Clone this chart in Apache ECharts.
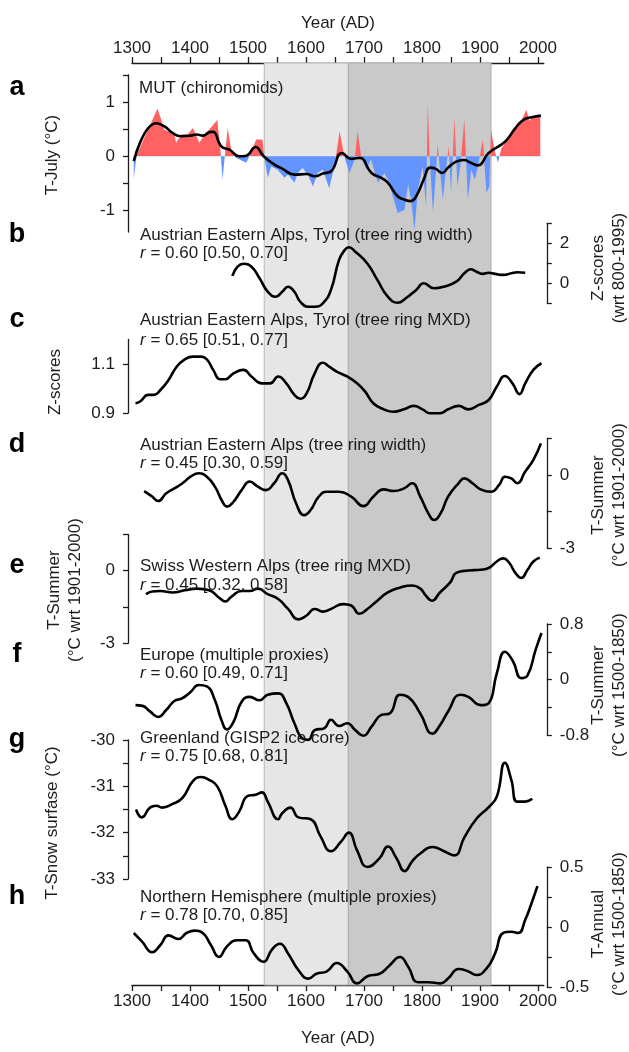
<!DOCTYPE html>
<html>
<head>
<meta charset="utf-8">
<script src="https://cdn.jsdelivr.net/npm/echarts@6/dist/echarts.min.js"></script>
<style>
  html, body { margin: 0; padding: 0; background: #fff; }
  #chart { width: 629px; height: 1052px; }
</style>
</head>
<body>
<div id="chart"></div>
<script>
  // ---- shared year axis ----
  const yearTicks = [1300, 1350, 1400, 1450, 1500, 1550, 1600, 1650, 1700, 1750, 1800, 1850, 1900, 1950, 2000]
  const yearLabels = [1300, 1400, 1500, 1600, 1700, 1800, 1900, 2000]
  const lightPeriod = [1528, 1673]
  const darkPeriod = [1673, 1919]

  // ---- a: MUT (chironomids), T-July ----
  const mutRawYears = [1303, 1308, 1344, 1356, 1362, 1373, 1376, 1385, 1396, 1405, 1416, 1425, 1433, 1447, 1452, 1456, 1460, 1465, 1471, 1479, 1497, 1505, 1514, 1525, 1528, 1534, 1540, 1551, 1563, 1569, 1580, 1586, 1594, 1603, 1612, 1620, 1629, 1640, 1649, 1658, 1666, 1675, 1684, 1689, 1695, 1704, 1712, 1724, 1735, 1741, 1753, 1758, 1770, 1776, 1781, 1787, 1793, 1801, 1807, 1810, 1813, 1819, 1824, 1827, 1832, 1836, 1842, 1846, 1850, 1856, 1861, 1866, 1873, 1879, 1885, 1891, 1896, 1905, 1911, 1916, 1919, 1925, 1931, 1937, 1942, 1948, 1957, 1965, 1971, 1980, 1985, 1991, 1997, 2004]
  const mutRaw = [-0.42, 0.02, 0.88, 0.49, 0.46, 0.40, 0.25, 0.40, 0.40, 0.52, 0.25, 0.40, 0.49, 0.67, 0.19, -0.43, 0.0, 0.52, 0.12, -0.03, -0.12, 0.06, 0.31, 0.31, 0.0, -0.40, -0.19, -0.25, -0.40, -0.34, -0.49, -0.31, -0.22, -0.34, -0.56, -0.31, -0.25, -0.59, -0.19, 0.46, 0.0, -0.31, -0.06, 0.46, 0.0, -0.25, -0.06, -0.49, -0.31, -0.43, -0.86, -1.05, -0.99, -0.52, -0.80, -1.36, -0.62, -0.19, -0.93, 0.99, 0.0, -1.05, -0.31, 0.22, -0.37, -0.80, -0.19, 0.19, -0.68, 0.71, -0.56, -0.19, 0.68, -0.80, -0.25, -0.43, -0.22, 0.31, -0.68, -0.56, 0.49, 0.12, -0.12, 0.15, 0.22, 0.31, 0.43, 0.62, 0.65, 0.86, 0.65, 0.74, 0.71, 0.74]
  const mutSmoothYears = [1303, 1342, 1356, 1370, 1384, 1401, 1412, 1422, 1436, 1440, 1454, 1468, 1485, 1497, 1513, 1527, 1545, 1559, 1580, 1601, 1615, 1629, 1643, 1662, 1678, 1692, 1713, 1730, 1741, 1758, 1769, 1781, 1790, 1803, 1814, 1823, 1835, 1845, 1859, 1872, 1884, 1896, 1915, 1936, 1947, 1961, 1975, 1989, 2005]
  const mutSmooth = [-0.09, 0.61, 0.55, 0.43, 0.37, 0.38, 0.40, 0.38, 0.45, 0.45, 0.18, 0.12, 0.0, 0.01, 0.17, 0.0, -0.15, -0.23, -0.34, -0.33, -0.37, -0.32, -0.28, 0.06, -0.05, -0.03, -0.31, -0.40, -0.49, -0.74, -0.80, -0.83, -0.74, -0.43, -0.21, -0.23, -0.31, -0.21, -0.10, -0.07, -0.12, -0.17, 0.06, 0.21, 0.31, 0.52, 0.67, 0.72, 0.75]
  const aTicks = [-1, -0.5, 0, 0.5, 1, 1.5]
  const aLabels = [-1, 0, 1]

  // ---- b: Tyrol tree ring width ----
  const bYears = [1473, 1482, 1492, 1506, 1520, 1534, 1548, 1559, 1569, 1580, 1590, 1604, 1615, 1629, 1643, 1657, 1667, 1674, 1685, 1706, 1723, 1741, 1758, 1772, 1790, 1803, 1821, 1838, 1859, 1873, 1884, 1894, 1905, 1915, 1926, 1940, 1954, 1964, 1978]
  const bVals = [0.37, 0.83, 0.98, 0.83, 0.25, -0.42, -0.67, -0.42, -0.17, -0.42, -0.92, -1.17, -1.17, -1.0, -0.33, 1.17, 1.67, 1.80, 1.58, 0.98, 0.17, -0.67, -0.97, -0.75, -0.33, 0.0, -0.25, -0.17, 0.08, 0.5, 0.70, 0.58, 0.47, 0.53, 0.47, 0.42, 0.5, 0.55, 0.53]
  const bTicks = [-1, 0, 1, 2, 3]
  const bLabels = [0, 2]

  // ---- c: Tyrol tree ring MXD ----
  const cYears = [1306, 1314, 1328, 1338, 1349, 1363, 1377, 1391, 1405, 1419, 1429, 1440, 1452, 1461, 1475, 1492, 1506, 1524, 1538, 1552, 1566, 1580, 1590, 1601, 1615, 1629, 1640, 1653, 1671, 1688, 1702, 1716, 1734, 1751, 1769, 1786, 1800, 1814, 1831, 1845, 1863, 1880, 1898, 1915, 1929, 1943, 1956, 1968, 1978, 1992, 2006]
  const cVals = [0.940, 0.947, 0.974, 0.974, 0.994, 1.035, 1.089, 1.119, 1.130, 1.130, 1.119, 1.076, 1.038, 1.038, 1.062, 1.076, 1.049, 1.021, 1.021, 1.049, 1.021, 0.974, 0.958, 0.980, 1.062, 1.105, 1.089, 1.069, 1.049, 1.021, 0.987, 0.940, 0.915, 0.905, 0.915, 0.929, 0.916, 0.899, 0.899, 0.915, 0.929, 0.915, 0.933, 0.953, 1.008, 1.051, 1.021, 0.977, 1.021, 1.076, 1.103]
  const cTicks = [0.9, 1.1]
  const cLabels = [0.9, 1.1]

  // ---- d: Austrian Eastern Alps tree ring width ----
  const dYears = [1321, 1335, 1345, 1359, 1373, 1387, 1401, 1415, 1429, 1443, 1456, 1464, 1475, 1489, 1503, 1517, 1531, 1545, 1559, 1569, 1583, 1597, 1608, 1622, 1636, 1657, 1678, 1699, 1716, 1734, 1751, 1769, 1783, 1797, 1811, 1821, 1832, 1845, 1863, 1873, 1887, 1901, 1919, 1933, 1943, 1954, 1964, 1978, 1992, 2005]
  const dVals = [-0.66, -0.89, -1.07, -0.75, -0.55, -0.34, -0.07, 0.07, -0.07, -0.48, -1.10, -1.30, -1.10, -0.62, -0.27, -0.48, -0.62, -0.34, 0.07, -0.21, -1.17, -1.65, -1.44, -0.89, -0.69, -0.69, -0.89, -1.28, -0.89, -0.59, -0.66, -0.55, -0.34, -0.89, -1.58, -1.85, -1.58, -0.89, -0.34, -0.14, -0.34, -0.59, -0.69, -0.41, -0.07, -0.14, -0.34, 0.14, 0.62, 1.3]
  const dTicks = [-3, -1.5, 0, 1.5]
  const dLabels = [-3, 0]

  // ---- e: Swiss Western Alps tree ring MXD ----
  const eYears = [1324, 1335, 1349, 1370, 1391, 1412, 1433, 1450, 1461, 1471, 1489, 1503, 1517, 1534, 1552, 1569, 1587, 1601, 1615, 1629, 1643, 1664, 1678, 1692, 1706, 1723, 1741, 1762, 1783, 1797, 1807, 1817, 1831, 1849, 1859, 1880, 1901, 1915, 1929, 1940, 1950, 1961, 1971, 1982, 1992, 2003]
  const eVals = [-0.97, -0.86, -0.84, -0.90, -0.81, -0.74, -0.81, -1.11, -1.27, -1.08, -0.84, -0.84, -0.74, -0.97, -1.17, -1.58, -2.01, -1.85, -1.58, -1.69, -1.58, -1.38, -1.44, -1.78, -1.58, -1.24, -0.90, -0.70, -0.61, -0.74, -1.04, -1.24, -0.90, -0.47, -0.09, 0.01, 0.04, 0.11, 0.38, 0.51, 0.34, -0.09, -0.30, 0.04, 0.38, 0.54]
  const eTicks = [-3, -1.5, 0, 1.5]
  const eLabels = [-3, 0]

  // ---- f: Europe multiple proxies ----
  const fYears = [1306, 1318, 1331, 1345, 1359, 1373, 1387, 1401, 1415, 1429, 1443, 1454, 1464, 1475, 1489, 1503, 1520, 1534, 1552, 1566, 1580, 1594, 1604, 1615, 1632, 1643, 1657, 1671, 1685, 1699, 1713, 1730, 1744, 1762, 1776, 1797, 1818, 1831, 1845, 1866, 1880, 1901, 1915, 1929, 1943, 1957, 1971, 1982, 1996, 2006]
  const fVals = [-0.37, -0.38, -0.46, -0.54, -0.44, -0.31, -0.27, -0.18, -0.08, -0.10, -0.30, -0.58, -0.72, -0.61, -0.32, -0.25, -0.30, -0.22, -0.20, -0.34, -0.63, -0.85, -0.87, -0.73, -0.70, -0.58, -0.67, -0.63, -0.73, -0.81, -0.68, -0.51, -0.49, -0.22, -0.25, -0.49, -0.78, -0.66, -0.46, -0.22, -0.25, -0.37, -0.34, 0.09, 0.40, 0.26, 0.02, 0.06, 0.43, 0.67]
  const fTicks = [-0.8, -0.4, 0, 0.4, 0.8]
  const fLabels = [-0.8, 0, 0.8]

  // ---- g: Greenland GISP2 ice core ----
  const gYears = [1307, 1317, 1331, 1342, 1352, 1370, 1387, 1405, 1419, 1433, 1447, 1461, 1473, 1485, 1499, 1513, 1524, 1534, 1552, 1559, 1573, 1587, 1608, 1625, 1643, 1660, 1674, 1688, 1706, 1727, 1741, 1756, 1770, 1783, 1797, 1818, 1838, 1856, 1873, 1894, 1915, 1929, 1943, 1954, 1964, 1978, 1990]
  const gVals = [-31.5, -31.67, -31.46, -31.42, -31.46, -31.38, -31.25, -30.89, -30.8, -30.86, -31.0, -31.42, -31.71, -31.54, -31.21, -31.18, -31.13, -31.33, -31.71, -31.58, -31.46, -31.67, -31.71, -32.08, -32.4, -32.2, -32.0, -32.38, -32.74, -32.55, -32.3, -32.55, -32.83, -32.62, -32.45, -32.31, -32.4, -32.49, -32.1, -31.7, -31.45, -31.22, -30.49, -30.86, -31.33, -31.33, -31.27]
  const gTicks = [-33, -32.5, -32, -31.5, -31, -30.5, -30]
  const gLabels = [-33, -32, -31, -30]

  // ---- h: Northern Hemisphere multiple proxies ----
  const hYears = [1303, 1317, 1335, 1349, 1363, 1380, 1394, 1408, 1422, 1436, 1450, 1464, 1482, 1496, 1510, 1527, 1541, 1555, 1569, 1587, 1604, 1618, 1636, 1653, 1671, 1688, 1706, 1727, 1744, 1762, 1776, 1793, 1811, 1832, 1845, 1863, 1880, 1894, 1912, 1926, 1940, 1954, 1966, 1978, 1989, 1999]
  const hVals = [-0.05, -0.12, -0.21, -0.15, -0.07, -0.10, -0.05, -0.03, -0.05, -0.15, -0.25, -0.16, -0.11, -0.11, -0.22, -0.29, -0.19, -0.14, -0.22, -0.36, -0.43, -0.39, -0.37, -0.30, -0.37, -0.47, -0.41, -0.39, -0.32, -0.25, -0.33, -0.46, -0.46, -0.47, -0.43, -0.35, -0.37, -0.40, -0.34, -0.22, -0.05, -0.04, -0.05, 0.06, 0.20, 0.34]
  const hTicks = [-0.5, -0.25, 0, 0.25, 0.5]
  const hLabels = [-0.5, 0, 0.5]

  const FONT = '"Liberation Sans", Arial, Helvetica, sans-serif'
  const INK = '#1c1c1c'
  const RED = '#ff6262'
  const BLUE = '#6494ff'
  const GRID_LEFT = 132
  const GRID_RIGHT = 85.2
  const X_MIN = 1300
  const X_MAX = 2010

  const zip = (xs, ys) => xs.map((x, i) => [x, ys[i]])

  // panel layout: pixel top / height of each value axis
  const panels = [
    { top: 75, height: 157, min: -1.4, max: 1.5, side: 'left', ticks: aTicks, labels: aLabels },
    { top: 223.3, height: 80, min: -1, max: 3, side: 'right', ticks: bTicks, labels: bLabels },
    { top: 339.5, height: 73.5, min: 0.9, max: 1.2, side: 'left', ticks: cTicks, labels: cLabels },
    { top: 438.5, height: 109.5, min: -3, max: 1.5, side: 'right', ticks: dTicks, labels: dLabels },
    { top: 534.4, height: 108.9, min: -3, max: 1.5, side: 'left', ticks: eTicks, labels: eLabels },
    { top: 624, height: 111, min: -0.8, max: 0.8, side: 'right', ticks: fTicks, labels: fLabels },
    { top: 740, height: 139, min: -33, max: -30, side: 'left', ticks: gTicks, labels: gLabels },
    { top: 867, height: 120, min: -0.5, max: 0.5, side: 'right', ticks: hTicks, labels: hLabels }
  ]

  const grids = [{ left: GRID_LEFT, right: GRID_RIGHT, top: 63, bottom: 54 }]
  const xAxes = []
  const yAxes = [{ gridIndex: 0, show: false, min: 0, max: 1 }]

  const yearAxis = (pos) => ({
    gridIndex: 0,
    type: 'value',
    position: pos,
    min: X_MIN,
    max: X_MAX,
    name: 'Year (AD)',
    nameLocation: 'middle',
    nameGap: pos === 'top' ? 31 : 45,
    nameTextStyle: { fontFamily: FONT, fontSize: 17, color: INK },
    axisLine: { show: true, onZero: false, lineStyle: { color: INK, width: 1.3 } },
    axisTick: { show: true, length: 6, customValues: yearTicks, lineStyle: { color: INK, width: 1.3 } },
    axisLabel: {
      customValues: yearLabels, margin: pos === 'top' ? 6 : 8,
      formatter: v => String(v), fontFamily: FONT, fontSize: 17, color: INK
    },
    splitLine: { show: false }
  })
  xAxes.push(yearAxis('top'), yearAxis('bottom'))

  panels.forEach((p, i) => {
    grids.push({ left: GRID_LEFT, right: GRID_RIGHT, top: p.top, height: p.height })
    xAxes.push({ gridIndex: i + 1, type: 'value', min: X_MIN, max: X_MAX, show: false })
    yAxes.push({
      gridIndex: i + 1,
      type: 'value',
      position: p.side,
      offset: p.side === 'left' ? 4 : 3,
      min: p.min,
      max: p.max,
      axisLine: { show: true, onZero: false, lineStyle: { color: INK, width: 1.3 } },
      axisTick: { show: true, length: 5, customValues: p.ticks, lineStyle: { color: INK, width: 1.3 } },
      axisLabel: { customValues: p.labels, margin: 13, formatter: v => String(v), fontFamily: FONT, fontSize: 17, color: INK },
      splitLine: { show: false }
    })
  })

  const curve = (panelIdx, years, vals) => ({
    type: 'line',
    xAxisIndex: panelIdx + 2,
    yAxisIndex: panelIdx + 1,
    data: zip(years, vals),
    smooth: 0.5,
    symbol: 'none',
    clip: false,
    silent: true,
    z: 4,
    lineStyle: { color: '#000', width: 2.6 }
  })

  // MUT fill: red above zero, blue below (hard stop at the zero line of panel a)
  const pa = panels[0]
  const zeroFrac = pa.max / (pa.max - pa.min)
  const mutFill = new echarts.graphic.LinearGradient(0, pa.top, 0, pa.top + pa.height, [
    { offset: 0, color: RED }, { offset: zeroFrac, color: RED },
    { offset: zeroFrac, color: BLUE }, { offset: 1, color: BLUE }
  ], true)

  const series = [
    {
      type: 'line',
      xAxisIndex: 0,
      yAxisIndex: 0,
      data: [[X_MIN, 0]],
      symbol: 'none',
      silent: true,
      z: 0,
      lineStyle: { opacity: 0 },
      markArea: {
        silent: true,
        data: [
          [{ xAxis: lightPeriod[0], itemStyle: { color: '#e6e6e6', borderColor: '#b8b8b8', borderWidth: 1 } }, { xAxis: lightPeriod[1] }],
          [{ xAxis: darkPeriod[0], itemStyle: { color: '#c9c9c9', borderColor: '#b0b0b0', borderWidth: 1 } }, { xAxis: darkPeriod[1] }]
        ]
      }
    },
    {
      type: 'line',
      xAxisIndex: 2,
      yAxisIndex: 1,
      data: zip(mutRawYears, mutRaw),
      symbol: 'none',
      silent: true,
      z: 3,
      lineStyle: { width: 0, opacity: 0 },
      areaStyle: { opacity: 1, origin: 0, color: mutFill }
    },
    curve(0, mutSmoothYears, mutSmooth),
    curve(1, bYears, bVals),
    curve(2, cYears, cVals),
    curve(3, dYears, dVals),
    curve(4, eYears, eVals),
    curve(5, fYears, fVals),
    curve(6, gYears, gVals),
    curve(7, hYears, hVals)
  ]

  // text overlays: panel letters, panel titles, r-values, axis titles
  const txt = (x, y, text, extra) => ({
    type: 'text', x: x, y: y, z: 100, silent: true,
    style: Object.assign({ text: text, fill: INK, fontFamily: FONT, fontSize: 17,
      align: 'left', verticalAlign: 'middle', textAlign: 'left', textVerticalAlign: 'middle' }, extra || {})
  })
  const letter = (y, l) => txt(17, y, l, { fontSize: 27, fontWeight: 'bold', fill: '#000', align: 'center', textAlign: 'center' })
  const rLine = (y, s) => ({
    type: 'text', x: 140, y: y, z: 100, silent: true,
    style: {
      text: '{i|r}{n| = ' + s + '}',
      align: 'left', verticalAlign: 'middle', textAlign: 'left', textVerticalAlign: 'middle',
      rich: {
        i: { fontStyle: 'italic', fontFamily: FONT, fontSize: 17, fill: INK },
        n: { fontFamily: FONT, fontSize: 17, fill: INK }
      }
    }
  })
  const vTitle = (x, y, s) => ({
    type: 'text', x: x, y: y, z: 100, rotation: Math.PI / 2, silent: true,
    style: { text: s, fill: INK, fontFamily: FONT, fontSize: 17, lineHeight: 21,
      align: 'center', verticalAlign: 'middle', textAlign: 'center', textVerticalAlign: 'middle' }
  })

  const graphics = [
    letter(88, 'a'), letter(235, 'b'), letter(320, 'c'), letter(445, 'd'),
    letter(566, 'e'), letter(655, 'f'), letter(740, 'g'), letter(897, 'h'),
    txt(139, 88, 'MUT (chironomids)'),
    txt(140, 235, 'Austrian Eastern Alps, Tyrol (tree ring width)'),
    rLine(253, '0.60 [0.50, 0.70]'),
    txt(140, 320, 'Austrian Eastern Alps, Tyrol (tree ring MXD)'),
    rLine(340, '0.65 [0.51, 0.77]'),
    txt(140, 445, 'Austrian Eastern Alps (tree ring width)'),
    rLine(463, '0.45 [0.30, 0.59]'),
    txt(140, 566, 'Swiss Western Alps (tree ring MXD)'),
    rLine(585, '0.45 [0.32, 0.58]'),
    txt(140, 655, 'Europe (multiple proxies)'),
    rLine(673, '0.60 [0.49, 0.71]'),
    txt(140, 738, 'Greenland (GISP2 ice core)'),
    rLine(756, '0.75 [0.68, 0.81]'),
    txt(140, 897, 'Northern Hemisphere (multiple proxies)'),
    rLine(915, '0.78 [0.70, 0.85]'),
    vTitle(52, 155, 'T-July (°C)'),
    vTitle(609, 268, 'Z-scores\n(wrt 800-1995)'),
    vTitle(55, 382, 'Z-scores'),
    vTitle(609, 495, 'T-Summer\n(°C wrt 1901-2000)'),
    vTitle(65, 590, 'T-Summer\n(°C wrt 1901-2000)'),
    vTitle(609, 685, 'T-Summer\n(°C wrt 1500-1850)'),
    vTitle(52, 823, 'T-Snow surfase (°C)'),
    vTitle(609, 924, 'T-Annual\n(°C wrt 1500-1850)')
  ]

  const chart = echarts.init(document.getElementById('chart'), null, { renderer: 'canvas' })
  chart.setOption({
    animation: false,
    backgroundColor: '#fff',
    grid: grids,
    xAxis: xAxes,
    yAxis: yAxes,
    series: series,
    graphic: { elements: graphics, z: 100 }
  })
</script>
</body>
</html>
